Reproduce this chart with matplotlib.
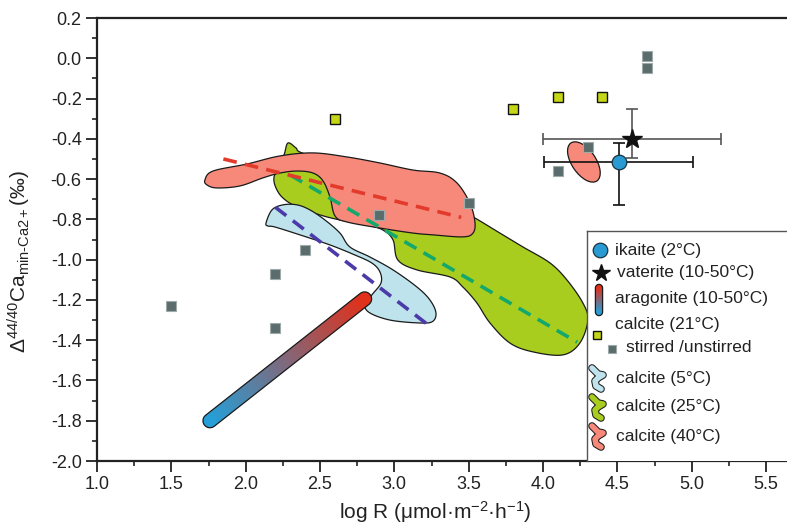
import numpy as np
import matplotlib
matplotlib.use('Agg')
import matplotlib.pyplot as plt
from matplotlib.patches import Polygon, Ellipse
from matplotlib.colors import LinearSegmentedColormap
from matplotlib.transforms import ScaledTranslation
from matplotlib.ticker import MultipleLocator

plt.rcParams['font.family'] = ['Liberation Sans', 'DejaVu Sans']
plt.rcParams['mathtext.fontset'] = 'custom'
plt.rcParams['mathtext.rm'] = 'Liberation Sans'
plt.rcParams['mathtext.it'] = 'Liberation Sans:italic'
plt.rcParams['mathtext.bf'] = 'Liberation Sans:bold'
plt.rcParams['axes.unicode_minus'] = False

# --- datos ---
stirred_x = [1.5, 2.2, 2.2, 2.4, 2.9, 3.5, 4.1, 4.3, 4.7, 4.7]
stirred_y = [-1.23, -1.07, -1.34, -0.95, -0.78, -0.72, -0.56, -0.44, 0.01, -0.05]

calcite21_x = [2.6, 3.8, 4.1, 4.4]
calcite21_y = [-0.30, -0.25, -0.19, -0.19]

ikaite_x, ikaite_y = 4.51, -0.515
ikaite_xerr = 0.5
ikaite_yerr = [[0.215], [0.095]]

vaterite_x, vaterite_y = 4.60, -0.40
vaterite_xerr = 0.6
vaterite_yerr = [[0.095], [0.15]]

# elipse roja pequena (calcite 40C, otro set)
ell_x, ell_y = 4.275, -0.515

# aragonito: eje central de la capsula
arag_x = [1.76, 2.80]
arag_y = [-1.80, -1.195]

# contornos de las zonas
blue_x = [2.137, 2.177, 2.251, 2.345, 2.432, 2.533, 2.634, 2.701, 2.836, 2.991, 3.152,
          3.239, 3.280, 3.253, 3.152, 2.970, 2.836, 2.802, 2.849, 2.910, 2.903, 2.849,
          2.735, 2.567, 2.365, 2.197, 2.150]
blue_y = [-0.818, -0.753, -0.728, -0.728, -0.753, -0.803, -0.868, -0.937, -0.987, -1.051,
          -1.136, -1.200, -1.265, -1.309, -1.314, -1.300, -1.265, -1.225, -1.175, -1.116,
          -1.061, -1.017, -0.977, -0.927, -0.877, -0.838, -0.833]

green_x = [2.284, 2.338, 2.379, 2.634, 3.038, 3.441, 3.542, 3.710, 3.865, 4.046, 4.161,
           4.268, 4.302, 4.248, 4.134, 3.932, 3.777, 3.643, 3.555, 3.461, 3.374, 3.152,
           3.024, 2.991, 2.923, 2.816, 2.634, 2.500, 2.345, 2.251, 2.204, 2.190, 2.217, 2.258]
green_y = [-0.421, -0.445, -0.470, -0.530, -0.629, -0.753, -0.793, -0.868, -0.937, -1.016,
           -1.101, -1.215, -1.300, -1.414, -1.473, -1.458, -1.414, -1.314, -1.215, -1.136,
           -1.086, -1.051, -1.002, -0.902, -0.853, -0.828, -0.803, -0.778, -0.738, -0.694,
           -0.644, -0.594, -0.545, -0.480]

red_x = [1.726, 1.780, 2.009, 2.231, 2.453, 2.681, 2.903, 3.125, 3.307, 3.421, 3.508,
         3.542, 3.529, 3.461, 3.260, 3.125, 2.903, 2.681, 2.601, 2.567, 2.520, 2.453,
         2.345, 2.231, 2.116, 1.962, 1.807, 1.740]
red_y = [-0.604, -0.560, -0.525, -0.485, -0.470, -0.490, -0.520, -0.555, -0.570, -0.619,
         -0.719, -0.813, -0.868, -0.887, -0.877, -0.868, -0.843, -0.813, -0.783, -0.689,
         -0.609, -0.570, -0.560, -0.570, -0.594, -0.634, -0.644, -0.629]

# rectas de tendencia
fit5_x, fit5_y = [2.20, 3.22], [-0.74, -1.32]
fit25_x, fit25_y = [2.30, 4.23], [-0.58, -1.41]
fit40_x, fit40_y = [1.85, 3.45], [-0.50, -0.79]

xticks = [1.0, 1.5, 2.0, 2.5, 3.0, 3.5, 4.0, 4.5, 5.0, 5.5]
xtick_labels = ['1.0', '1.5', '2.0', '2.5', '3.0', '3.5', '4.0', '4.5', '5.0', '5.5']
yticks = [0.2, 0.0, -0.2, -0.4, -0.6, -0.8, -1.0, -1.2, -1.4, -1.6, -1.8, -2.0]
ytick_labels = ['0.2', '0.0', '-0.2', '-0.4', '-0.6', '-0.8', '-1.0', '-1.2', '-1.4',
                '-1.6', '-1.8', '-2.0']

c_blue = '#bee3ed'
c_green = '#a8cd1f'
c_red = '#f7897a'
arag_cmap = LinearSegmentedColormap.from_list('arag', ['#259fd8', '#e2301a'])


def suavizar(xs, ys, n=14):
    # catmull-rom cerrado
    p = np.column_stack([xs, ys])
    m = len(p)
    t = np.linspace(0, 1, n, endpoint=False)[:, None]
    out = []
    for i in range(m):
        p0, p1, p2, p3 = p[i - 1], p[i], p[(i + 1) % m], p[(i + 2) % m]
        out.append(0.5 * (2 * p1 + (-p0 + p2) * t + (2 * p0 - 5 * p1 + 4 * p2 - p3) * t ** 2
                          + (-p0 + 3 * p1 - 3 * p2 + p3) * t ** 3))
    return np.vstack(out)


def capsula(p0, p1, r, n=30):
    d = p1 - p0
    ang = np.arctan2(d[1], d[0])
    a1 = np.linspace(ang - np.pi / 2, ang + np.pi / 2, n)
    a0 = np.linspace(ang + np.pi / 2, ang + 3 * np.pi / 2, n)
    pts1 = p1 + r * np.column_stack([np.cos(a1), np.sin(a1)])
    pts0 = p0 + r * np.column_stack([np.cos(a0), np.sin(a0)])
    return np.vstack([pts1, pts0])


def gradiente(ax, poly_px, p0, p1, to_data, zorder):
    # imagen con degradado a lo largo de p0->p1, recortada por el poligono
    xmin, ymin = poly_px.min(axis=0)
    xmax, ymax = poly_px.max(axis=0)
    gx = np.linspace(xmin, xmax, 120)
    gy = np.linspace(ymin, ymax, 120)
    GX, GY = np.meshgrid(gx, gy)
    d = p1 - p0
    t = ((GX - p0[0]) * d[0] + (GY - p0[1]) * d[1]) / (d @ d)
    img = arag_cmap(np.clip(t, 0, 1))
    poly_d = to_data(poly_px)
    c0 = to_data(np.array([[xmin, ymin]]))[0]
    c1 = to_data(np.array([[xmax, ymax]]))[0]
    patch = Polygon(poly_d, closed=True, facecolor='none', edgecolor='#1a1a1a',
                    lw=0.9, zorder=zorder + 0.1)
    ax.add_patch(patch)
    im = ax.imshow(img, extent=[c0[0], c1[0], c0[1], c1[1]], origin='lower',
                   aspect='auto', zorder=zorder, interpolation='bilinear')
    im.set_clip_path(patch)


fig = plt.figure(figsize=(7.87, 5.25), dpi=100)
ax = fig.add_axes([97 / 787, 64 / 525, 700 / 787, 443 / 525])
xlim = (1.0, 1.0 + 700 / 148.67)
ylim = (-2.0, 0.2)
ax.set_xlim(xlim)
ax.set_ylim(ylim)

# zonas
for bx, by, col, z in [(green_x, green_y, c_green, 2), (red_x, red_y, c_red, 3),
                       (blue_x, blue_y, c_blue, 3)]:
    ax.add_patch(Polygon(suavizar(bx, by), closed=True, facecolor=col,
                         edgecolor='#1a1a1a', lw=0.9, zorder=z))

ax.add_patch(Ellipse((0, 0), width=0.46, height=0.24, angle=-55.6, facecolor=c_red,
                     edgecolor='#1a1a1a', lw=0.9, zorder=3,
                     transform=fig.dpi_scale_trans + ScaledTranslation(ell_x, ell_y, ax.transData)))

# aragonito con degradado
pa = ax.transData.transform(np.column_stack([arag_x, arag_y]))
poly = capsula(pa[0], pa[1], 7.0)
gradiente(ax, poly, pa[0], pa[1], ax.transData.inverted().transform, 4)

# rectas
ax.plot(fit5_x, fit5_y, color='#4b3aa8', lw=2.6, ls=(0, (3.8, 2.3)), zorder=5)
ax.plot(fit25_x, fit25_y, color='#13a86c', lw=2.6, ls=(0, (3.8, 2.3)), zorder=5)
ax.plot(fit40_x, fit40_y, color='#e23b2b', lw=2.6, ls=(0, (3.8, 2.3)), zorder=5)

# puntos
ax.plot(stirred_x, stirred_y, 's', ms=6.5, mfc='#5a6c6c', mec='#9eaaaa', mew=0.8, zorder=6)
ax.plot(calcite21_x, calcite21_y, 's', ms=6.5, mfc='#c4d615', mec='#111111', mew=1.0, zorder=6)

ax.errorbar(vaterite_x, vaterite_y, xerr=vaterite_xerr, yerr=vaterite_yerr, fmt='none',
            ecolor='#555555', elinewidth=1.2, capsize=4.5, capthick=1.2, zorder=7)
ax.errorbar(ikaite_x, ikaite_y, xerr=ikaite_xerr, yerr=ikaite_yerr, fmt='none',
            ecolor='#111111', elinewidth=1.2, capsize=4.5, capthick=1.2, zorder=7)
ax.plot(vaterite_x, vaterite_y, '*', ms=14.5, color='#111111', zorder=8)
ax.plot(ikaite_x, ikaite_y, 'o', ms=10.5, mfc='#2a9ad2', mec='#1b3340', mew=0.9, zorder=8)

ax.set_xlim(xlim)
ax.set_ylim(ylim)

# ejes
ax.set_xticks(xticks)
ax.set_xticklabels(xtick_labels)
ax.set_yticks(yticks)
ax.set_yticklabels(ytick_labels)
ax.xaxis.set_minor_locator(MultipleLocator(0.25))
ax.yaxis.set_minor_locator(MultipleLocator(0.1))
ax.tick_params(which='major', direction='out', length=8, width=1.3, labelsize=13,
               pad=3, color='#222222', labelcolor='#222222')
ax.tick_params(which='minor', direction='out', length=3.5, width=1.2, color='#222222')
ax.spines['right'].set_visible(False)
for s in ['left', 'bottom', 'top']:
    ax.spines[s].set_linewidth(1.6)
    ax.spines[s].set_color('#222222')

ax.set_xlabel('log R (μmol·m$^{\\mathrm{-2}}$·h$^{\\mathrm{-1}}$)', fontsize=15, color='#222222')
ax.xaxis.set_label_coords(0.483, -0.085)
ax.set_ylabel('$\\Delta^{\\mathrm{44/40}}\\mathrm{Ca}_{\\mathrm{min}\\text{-}\\mathrm{Ca2+}}$(‰)',
              fontsize=15, color='#222222')
ax.yaxis.set_label_coords(-0.092, 0.451)

# leyenda dibujada a mano (coordenadas en pixeles dentro del recuadro)
lax = fig.add_axes([587 / 787, 64 / 525, 210 / 787, 230 / 525])
lax.set_zorder(10)
lax.set_xlim(0, 210)
lax.set_ylim(230, 0)
lax.set_xticks([])
lax.set_yticks([])
lax.set_facecolor('white')
lax.spines['right'].set_visible(False)
lax.spines['bottom'].set_visible(False)
for s in ['left', 'top']:
    lax.spines[s].set_linewidth(1.0)
    lax.spines[s].set_color('#555555')

fs = 12.5
lax.plot(13, 19, 'o', ms=10.5, mfc='#2a9ad2', mec='#1b3340', mew=0.9)
lax.text(28, 19, 'ikaite (2°C)', fontsize=fs, va='center', color='#222222')
lax.plot(14, 42, '*', ms=13, color='#111111')
lax.text(30, 42, 'vaterite (10-50°C)', fontsize=fs, va='center', color='#222222')
lp0, lp1 = np.array([12.0, 81.0]), np.array([12.0, 57.0])
gradiente(lax, capsula(lp0, lp1, 3.6), lp0, lp1, lambda p: p, 3)
lax.text(28, 68, 'aragonite (10-50°C)', fontsize=fs, va='center', color='#222222')
lax.plot(10, 104, 's', ms=5.5, mfc='#c4d615', mec='#111111', mew=1.0)
lax.text(28, 94, 'calcite (21°C)', fontsize=fs, va='center', color='#222222')
lax.plot(25, 118, 's', ms=5.5, mfc='#5a6c6c', mec='#9eaaaa', mew=0.8)
lax.text(39, 117, 'stirred /unstirred', fontsize=fs, va='center', color='#222222')

squig_dx = [-6, -3, 0, 5, 0, -3, -2, 3]
squig_dy = [-10, -7, -4, -3, 0, 3, 8, 11]
for cy, col, lab in [(147, c_blue, 'calcite (5°C)'), (176, c_green, 'calcite (25°C)'),
                     (205, c_red, 'calcite (40°C)')]:
    sx = [11 + d for d in squig_dx]
    sy = [cy + d for d in squig_dy]
    lax.plot(sx, sy, color='#1a1a1a', lw=5.5, solid_capstyle='round', solid_joinstyle='round')
    lax.plot(sx, sy, color=col, lw=4.0, solid_capstyle='round', solid_joinstyle='round')
    lax.text(29, cy, lab, fontsize=fs, va='center', color='#222222')
lax.set_xlim(0, 210)
lax.set_ylim(230, 0)

fig.savefig('out.png', dpi=100)
